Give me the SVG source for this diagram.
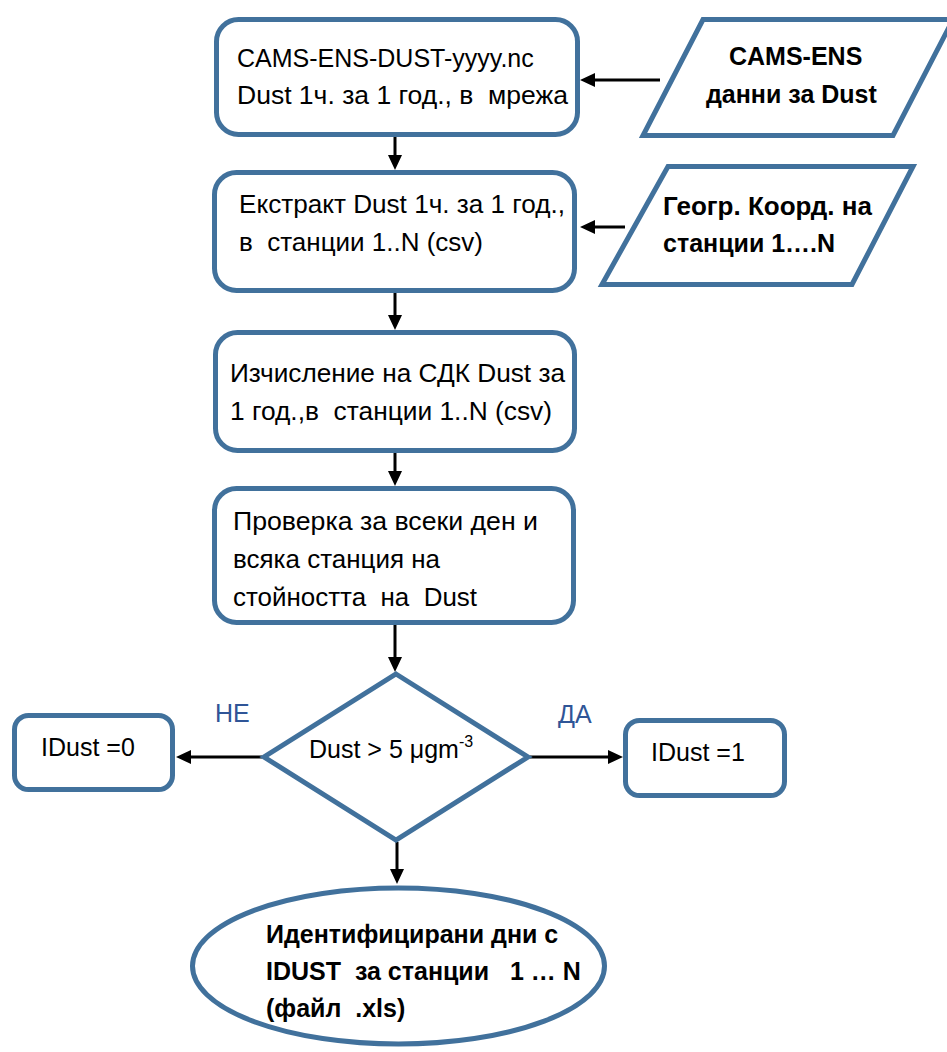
<svg xmlns="http://www.w3.org/2000/svg" width="947" height="1052" viewBox="0 0 947 1052">
<style>
.box{fill:#fff;stroke:#41719C;stroke-width:5}
.t{font-family:"Liberation Sans",Arial,sans-serif;font-size:25px;fill:#000}
.b{font-weight:bold}
.lbl{font-family:"Liberation Sans",Arial,sans-serif;font-size:25px;fill:#2F5597}
.c{stroke:#000;stroke-width:3;fill:none}
</style>
<defs>
<marker id="ah" markerUnits="userSpaceOnUse" markerWidth="16" markerHeight="16" refX="5" refY="7" orient="auto">
<path d="M0,0 L15,7 L0,14 Z" fill="#000"/>
</marker>
</defs>
<rect width="947" height="1052" fill="#fff"/>
<g id="connectors">
<line class="c" x1="660" y1="80" x2="590" y2="80" marker-end="url(#ah)"/>
<line class="c" x1="625" y1="227" x2="590" y2="227" marker-end="url(#ah)"/>
<line class="c" x1="395" y1="137" x2="395" y2="160" marker-end="url(#ah)"/>
<line class="c" x1="395" y1="293" x2="395" y2="320" marker-end="url(#ah)"/>
<line class="c" x1="395" y1="453" x2="395" y2="476" marker-end="url(#ah)"/>
<line class="c" x1="395" y1="625" x2="395" y2="662" marker-end="url(#ah)"/>
<line class="c" x1="262" y1="757" x2="186" y2="757" marker-end="url(#ah)"/>
<line class="c" x1="530" y1="757" x2="613" y2="757" marker-end="url(#ah)"/>
<line class="c" x1="397" y1="842" x2="397" y2="874" marker-end="url(#ah)"/>
</g>
<g id="n_nc">
<rect class="box" x="216.5" y="19.5" width="361" height="115" rx="22"/>
<text class="t" x="237" y="67" xml:space="preserve">CAMS-ENS-DUST-yyyy.nc</text>
<text class="t" x="237" y="104" xml:space="preserve" textLength="331" lengthAdjust="spacingAndGlyphs">Dust 1ч. за 1 год., в  мрежа</text>
</g>
<g id="n_cams">
<polygon class="box" points="703,19.5 953,19.5 893,135.5 643,135.5"/>
<text class="t b" x="729" y="65">CAMS-ENS</text>
<text class="t b" x="706" y="103">данни за Dust</text>
</g>
<g id="n_extract">
<rect class="box" x="214.5" y="172.5" width="360" height="118" rx="22"/>
<text class="t" x="239" y="213" xml:space="preserve" textLength="326" lengthAdjust="spacingAndGlyphs">Екстракт Dust 1ч. за 1 год.,</text>
<text class="t" x="239" y="251" xml:space="preserve" textLength="244" lengthAdjust="spacingAndGlyphs">в  станции 1..N (csv)</text>
</g>
<g id="n_geo">
<polygon class="box" points="668,166.5 913,166.5 852,284.5 602,284.5"/>
<text class="t b" x="663" y="215" textLength="209" lengthAdjust="spacingAndGlyphs">Геогр. Коорд. на</text>
<text class="t b" x="663" y="252">станции 1….N</text>
</g>
<g id="n_sdk">
<rect class="box" x="215.5" y="332.5" width="359" height="118" rx="22"/>
<text class="t" x="230" y="382" xml:space="preserve" textLength="335" lengthAdjust="spacingAndGlyphs">Изчисление на СДК Dust за</text>
<text class="t" x="230" y="420" xml:space="preserve" textLength="322" lengthAdjust="spacingAndGlyphs">1 год.,в  станции 1..N (csv)</text>
</g>
<g id="n_check">
<rect class="box" x="214.5" y="488.5" width="359" height="134" rx="22"/>
<text class="t" x="233" y="530" xml:space="preserve" textLength="305" lengthAdjust="spacingAndGlyphs">Проверка за всеки ден и</text>
<text class="t" x="233" y="568" xml:space="preserve" textLength="207" lengthAdjust="spacingAndGlyphs">всяка станция на</text>
<text class="t" x="233" y="606" xml:space="preserve" textLength="244" lengthAdjust="spacingAndGlyphs">стойността  на  Dust</text>
</g>
<g id="n_decision">
<polygon class="box" points="396,674 528,757 396,840 264,757"/>
<text class="t" x="309" y="758">Dust &gt; 5 μgm<tspan dy="-11" font-size="16">-3</tspan></text>
</g>
<g id="lbl_no">
<text class="lbl" x="215" y="722">НЕ</text>
</g>
<g id="lbl_yes">
<text class="lbl" x="558" y="723">ДА</text>
</g>
<g id="n_idust0">
<rect class="box" x="14.5" y="715.5" width="158" height="74" rx="14"/>
<text class="t" x="41" y="756">IDust =0</text>
</g>
<g id="n_idust1">
<rect class="box" x="625.5" y="720.5" width="159" height="75" rx="14"/>
<text class="t" x="651" y="761">IDust =1</text>
</g>
<g id="n_result">
<ellipse class="box" cx="398.5" cy="966" rx="206" ry="78"/>
<text class="t b" x="266" y="943" xml:space="preserve">Идентифицирани дни с</text>
<text class="t b" x="266" y="980" xml:space="preserve">IDUST  за станции   1 … N</text>
<text class="t b" x="266" y="1017" xml:space="preserve">(файл  .xls)</text>
</g>
</svg>
